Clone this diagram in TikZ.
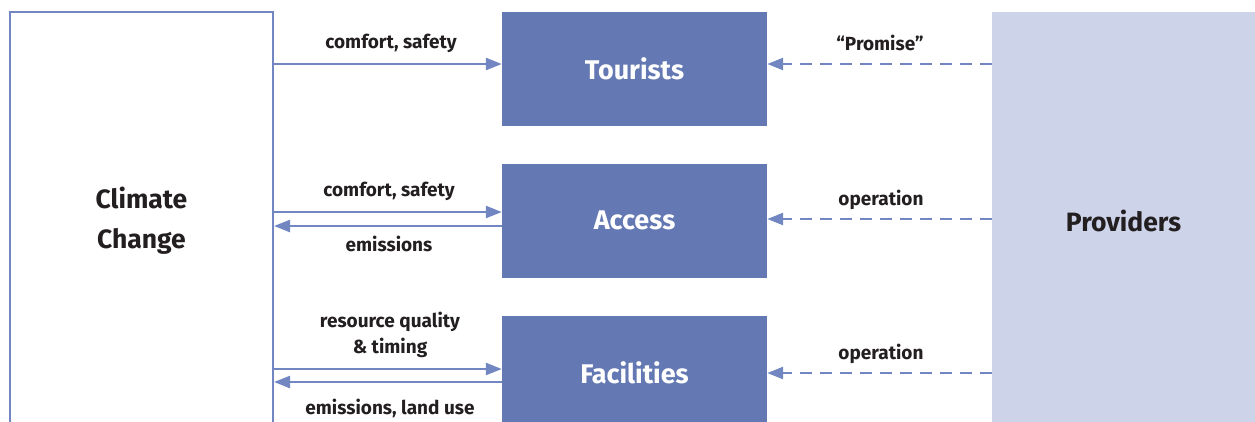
\documentclass[tikz,border=0pt]{standalone}
\usepackage{fontspec}
\setmainfont{Fira Sans}
\usetikzlibrary{arrows.meta,positioning}
\definecolor{boxblue}{HTML}{6479B3}
\definecolor{lineblue}{HTML}{7287C2}
\definecolor{paleblue}{HTML}{CDD3E8}
\definecolor{ink}{HTML}{231F20}
\tikzset{
  x=1pt, y=-1pt,
  stage/.style={fill=boxblue, draw=none, minimum width=265pt, minimum height=114pt,
    text=white, font=\fontsize{27}{30}\selectfont\bfseries, inner sep=0pt},
  lbl/.style={text=ink, font=\fontsize{19}{26}\selectfont\bfseries, inner sep=0pt, align=center},
  arr/.style={draw=lineblue, line width=2.4pt, -{Triangle[length=16pt,width=12pt]}},
  darr/.style={arr, dash pattern=on 12pt off 8pt},
}
\begin{document}
\begin{tikzpicture}
\useasboundingbox (0,0) rectangle (1255,421);
\clip (0,0) rectangle (1255,421);
% side blocks
\node[draw=lineblue, line width=2pt, fill=white, minimum width=263pt, minimum height=418pt,
  inner sep=0pt, align=center, text=ink, font=\fontsize{26.5}{40}\selectfont\bfseries]
  (cc) at (141.5,221) {Climate\\Change};
\node[fill=paleblue, minimum width=263pt, minimum height=418pt, inner sep=0pt,
  text=ink, font=\fontsize{26.5}{30}\selectfont\bfseries] (prov) at (1123.5,221) {Providers};
% central blocks
\node[stage] (tour) at (634.5,69) {Tourists};
\node[stage] (acc) at (634.5,220.5) {Access};
\node[stage] (fac) at (634.5,373) {Facilities};
% climate links
\draw[arr] (cc.east |- 0,64) -- (tour.west |- 0,64);
\draw[arr] (cc.east |- 0,212) -- (acc.west |- 0,212);
\draw[arr] (acc.west |- 0,226) -- (cc.east |- 0,226);
\draw[arr] (cc.east |- 0,369) -- (fac.west |- 0,369);
\draw[arr] (fac.west |- 0,382) -- (cc.east |- 0,382);
% provider links
\draw[darr] (prov.west |- 0,64) -- (tour.east |- 0,64);
\draw[darr] (prov.west |- 0,219) -- (acc.east |- 0,219);
\draw[darr] (prov.west |- 0,373) -- (fac.east |- 0,373);
% labels
\node[lbl] (l1) at (391,43) {comfort, safety};
\node[lbl] (l2) at (389,191) {comfort, safety};
\node[lbl] (l3) at (389,244) {emissions};
\node[lbl] (l4) at (390,335) {resource quality\\\& timing};
\node[lbl] (l5) at (390,408) {emissions, land use};
\node[lbl] (l6) at (880,43) {“Promise”};
\node[lbl] (l7) at (881,200) {operation};
\node[lbl] (l8) at (881,354) {operation};
\end{tikzpicture}
\end{document}
